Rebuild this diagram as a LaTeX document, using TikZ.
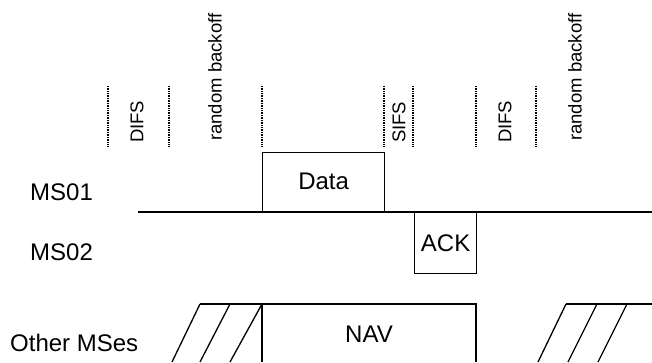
\documentclass[tikz,border=0pt]{standalone}
\usepackage{fontspec}
\setmainfont{Liberation Sans}
\usepackage{tikz}

\tikzset{
  lbl/.style={inner sep=0pt, font=\fontsize{24}{28}\selectfont},
  toplbl/.style={inner sep=0pt, rotate=90, anchor=west, font=\fontsize{18.5}{21}\selectfont},
  frame/.style={draw, line width=1.3pt, inner sep=0pt, font=\fontsize{24}{28}\selectfont},
  tick/.style={line width=1.3pt, dash pattern=on 1pt off 0.7pt},
  hatch/.style={line width=1.3pt}
}

\begin{document}
\begin{tikzpicture}[x=1pt, y=-1pt]
\useasboundingbox (0,0) rectangle (652,362);
% time marks
\foreach \t in {108,169,262,384,413,476,536}
  \draw[tick] (\t,86) -- (\t,147);
\node[toplbl] (difsa) at (137,143) {DIFS};
\node[toplbl] (backa) at (215,141) {random backoff};
\node[toplbl] (sifs) at (399,143) {SIFS};
\node[toplbl] (difsb) at (505,143) {DIFS};
\node[toplbl] (backb) at (575,141) {random backoff};
% stations
\node[lbl, anchor=west] (ms1) at (30,192) {MS01};
\node[lbl, anchor=west] (ms2) at (30,252) {MS02};
\node[lbl, anchor=west] (other) at (10,343) {Other MSes};
% medium line
\coordinate (lstart) at (138,212);
\coordinate (lend) at (652,212);
\draw[line width=2pt] (lstart) -- (lend);
% frames
\node[frame, anchor=south west, minimum width=122pt, minimum height=59pt] (data) at (262,212) {Data};
\node[frame, anchor=north west, minimum width=62pt, minimum height=61pt] (ack) at (414,212) {ACK};
% NAV
\node[lbl] (nav) at (369,334) {NAV};
\coordinate (navl) at (262,362);
\coordinate (navr) at (476,362);
\draw[hatch] (navl) |- (476,304) -- (navr);
% backoff hatching
\draw[hatch] (200,304) -- (262,304);
\foreach \a/\b in {200/172,230/200,262/230}
  \draw[hatch] (\a,304) -- (\b,362);
\draw[hatch] (566,304) -- (652,304);
\foreach \a/\b in {566/538,597/568,627/598}
  \draw[hatch] (\a,304) -- (\b,362);
\end{tikzpicture}
\end{document}
